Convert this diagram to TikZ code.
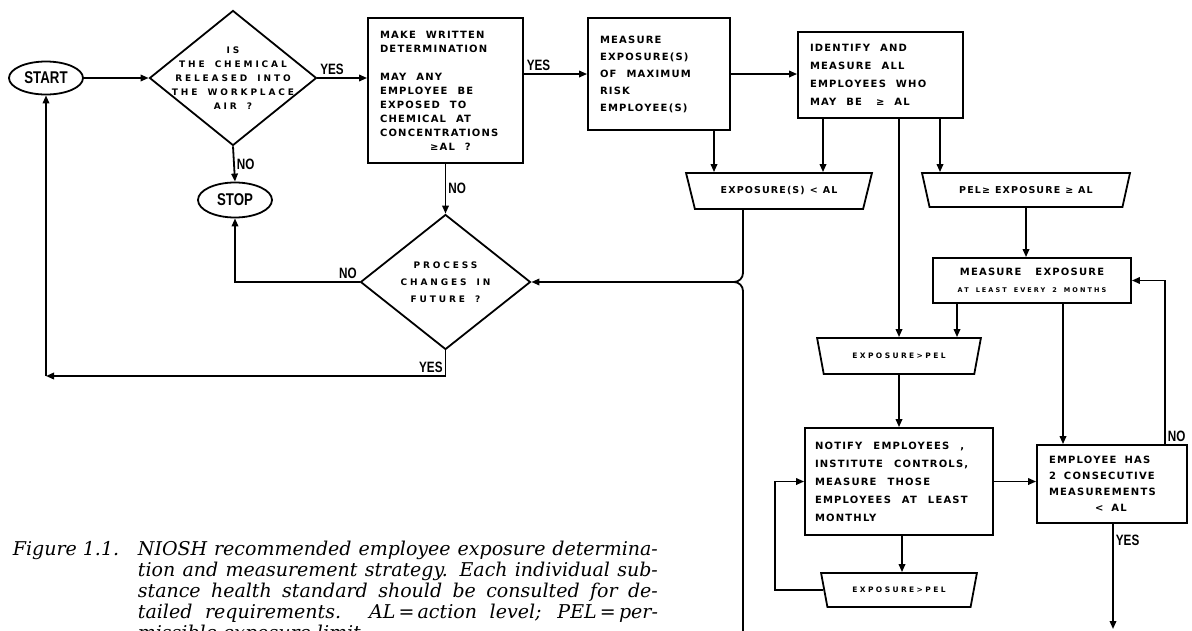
\documentclass[tikz,border=0pt]{standalone}
\usepackage{fontspec}
\usetikzlibrary{shapes.geometric,arrows.meta}
\newfontfamily\boxfont[LetterSpace=12]{DejaVu Sans}
\newfontfamily\wideboxfont[LetterSpace=32]{DejaVu Sans}
\newfontfamily\lblfont[FakeStretch=0.78]{Liberation Sans}
\newfontfamily\capfont{DejaVu Serif}
\newcommand\wordgap[1]{\spaceskip=#1\relax}
\begin{document}
\begin{tikzpicture}[x=1pt,y=-1pt,line width=1.8pt,
	arr/.style={-{Triangle[length=8pt,width=6.5pt]}},
	box/.style={draw,rectangle,inner xsep=12pt,inner ysep=0pt,align=left,font=\boxfont\bfseries\fontsize{10}{14}\selectfont,
		execute at begin node=\wordgap{10pt}},
	term/.style={draw,ellipse,inner sep=0pt,font=\lblfont\bfseries\fontsize{17}{17}\selectfont},
	ask/.style={draw,diamond,inner sep=0pt},
	asktext/.style={font=\wideboxfont\bfseries\fontsize{9}{#1}\selectfont\wordgap{10pt},align=center,inner sep=0pt},
	gate/.style={draw,trapezium,trapezium angle=126,trapezium stretches=true,inner sep=0pt,font=\boxfont\bfseries\fontsize{9.5}{9.5}\selectfont\wordgap{5pt}},
	tag/.style={font=\lblfont\bfseries\fontsize{15}{15}\selectfont,inner sep=2pt},
	capline/.style={anchor=base west,inner sep=0pt,font=\capfont\itshape\fontsize{19}{21}\selectfont}]
	\useasboundingbox (0,0) rectangle (1192,630);
	% left column
	\node[term,minimum width=74pt,minimum height=33pt] (start) at (46,78) {START};
	\node[ask,minimum width=167pt,minimum height=135pt,
		label={[asktext=14]center:IS\\THE CHEMICAL\\RELEASED INTO\\THE WORKPLACE\\AIR ?}] (air) at (233,78) {};
	\node[term,minimum width=74pt,minimum height=35pt] (stop) at (235,200) {STOP};
	\node[box,text width=131pt,minimum height=145pt] (det) at (445.5,90.5)
		{MAKE WRITTEN\\DETERMINATION\\[14pt]MAY ANY\\EMPLOYEE BE\\EXPOSED TO\\CHEMICAL AT\\CONCENTRATIONS\\\hspace*{50pt}≥AL ?};
	\node[ask,minimum width=170pt,minimum height=135pt,
		label={[asktext=17]center:PROCESS\\CHANGES IN\\FUTURE ?}] (future) at (445.5,282) {};
	% middle
	\node[box,text width=118pt,minimum height=112pt,font=\boxfont\bfseries\fontsize{10}{17}\selectfont] (maxrisk) at (659,74)
		{MEASURE\\EXPOSURE(S)\\OF MAXIMUM\\RISK\\EMPLOYEE(S)};
	\node[box,text width=141pt,minimum height=86pt,font=\boxfont\bfseries\fontsize{10}{18}\selectfont] (ident) at (880.5,75)
		{IDENTIFY AND\\MEASURE ALL\\EMPLOYEES WHO\\MAY BE\hspace{14pt}≥ AL};
	\node[gate,minimum width=186pt,minimum height=36pt] (lowA) at (779,191) {EXPOSURE(S) < AL};
	\node[gate,minimum width=208pt,minimum height=34pt] (pelal) at (1026,190) {PEL≥ EXPOSURE ≥ AL};
	% right column
	\node[box,minimum width=198pt,minimum height=45pt,align=center,font=\boxfont\bfseries\fontsize{10}{17}\selectfont,
		execute at begin node=\wordgap{14pt}] (every2) at (1032,280.5)
		{MEASURE EXPOSURE\\{\wideboxfont\fontsize{6.5}{17}\selectfont\wordgap{7pt}AT LEAST EVERY 2 MONTHS}};
	\node[gate,minimum width=164pt,minimum height=36pt,font=\wideboxfont\bfseries\fontsize{7.5}{7.5}\selectfont] (overA) at (899,356) {EXPOSURE>PEL};
	\node[box,text width=168pt,minimum height=107pt,inner xsep=10pt,font=\boxfont\bfseries\fontsize{10}{18}\selectfont,
		execute at begin node=\wordgap{11pt}] (notify) at (899,481.5)
		{NOTIFY EMPLOYEES ,\\INSTITUTE CONTROLS,\\MEASURE THOSE\\EMPLOYEES AT LEAST\\MONTHLY};
	\node[box,text width=126pt,minimum height=78pt,font=\boxfont\bfseries\fontsize{10}{16}\selectfont,
		execute at begin node=\wordgap{8pt}] (consec) at (1112,484)
		{EMPLOYEE HAS\\2 CONSECUTIVE\\MEASUREMENTS\\\hspace*{46pt}< AL};
	\node[gate,minimum width=156pt,minimum height=34pt,font=\wideboxfont\bfseries\fontsize{7.5}{7.5}\selectfont] (overB) at (899,590) {EXPOSURE>PEL};
	% caption
	\node[capline] (fig) at (12,555) {Figure 1.1.};
	\foreach \words [count=\k] in {{NIOSH recommended employee exposure determina-},
		{tion and measurement strategy. Each individual sub-},
		{stance health standard should be consulted for de-},
		{tailed requirements. AL\,=\,action level; PEL\,=\,per-}}
		\node[capline] (legend\k) at (137,{555+21*(\k-1)}) {\makebox[520pt][s]{\words}};
	\node[capline] (legend5) at (137,639) {missible exposure limit.};
	% connectors
	\coordinate (back) at (46,376);
	\coordinate (pageend) at (743,640);
	\coordinate (yesend) at (1113,629);
	\draw[arr] (start.east) -- (air.west);
	\draw[arr] (air.east) -- (air.east -| det.west) node[tag,pos=0,above right] {YES};
	\draw[arr] (air.south) -- (stop.north) node[tag,midway,right] {NO};
	\draw[arr] (maxrisk.west -| det.east) -- (maxrisk.west) node[tag,pos=0,above right] {YES};
	\draw[arr] (det.south) -- (future.north) node[tag,midway,right] {NO};
	\draw[arr] (future.west) -| (stop.south) node[tag,pos=0,above left] {NO};
	\draw[arr] (future.south) |- (back) node[tag,pos=0.5,above left] {YES};
	\draw[arr] (back) -- (start.south);
	\draw[arr] (maxrisk.east) -- (maxrisk.east -| ident.west);
	\draw[arr] (maxrisk.south -| 714,0) -- (lowA.north -| 714,0);
	\draw[arr] (ident.south -| 823,0) -- (lowA.north -| 823,0);
	\draw[arr,rounded corners=9pt] (lowA.south -| 743,0) |- (future.east);
	\draw[rounded corners=9pt] (pageend) |- ([xshift=80pt]future.east);
	\draw[arr] (ident.south -| 940,0) -- (pelal.north -| 940,0);
	\draw[arr] (ident.south -| 899,0) -- (overA.north);
	\draw[arr] (pelal.south) -- (pelal.south |- every2.north);
	\draw[arr] (every2.south -| 957,0) -- (overA.north -| 957,0);
	\draw[arr] (every2.south -| 1063,0) -- (consec.north -| 1063,0);
	\draw[arr] (consec.north -| 1165,0) |- (every2.east) node[tag,pos=0,above right] {NO};
	\draw[arr] (overA.south) -- (notify.north);
	\draw[arr] (notify.east) -- (notify.east -| consec.west);
	\draw[arr] (notify.south -| 902,0) -- (overB.north -| 902,0);
	\draw[arr] (overB.west) -| ([xshift=-29pt]notify.west) -- (notify.west);
	\draw[arr] (consec.south -| 1113,0) -- (yesend) node[tag,pos=0.16,right] {YES};
\end{tikzpicture}
\end{document}
